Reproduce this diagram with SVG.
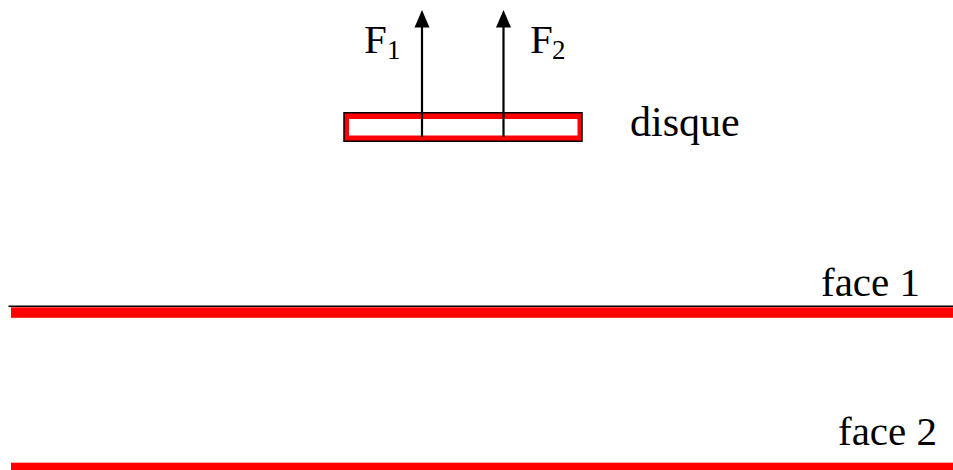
<svg xmlns="http://www.w3.org/2000/svg" width="953" height="470" viewBox="0 0 953 470">
<style>
.t{font-family:"Liberation Serif","Times New Roman",serif;fill:#000}
.lbl{font-size:41px}
.sub{font-size:27px}
.arr{stroke:#000;stroke-width:2.2;fill:none}
.red{fill:#ff0000}
</style>
<rect width="953" height="470" fill="#fff"/>
<g id="disque">
<rect x="344" y="112.75" width="238" height="28.5" fill="#ff0000" stroke="#000" stroke-width="1.5"/>
<rect x="349" y="119" width="228.5" height="16.5" fill="#fff"/>
<text class="t" style="font-size:42px" x="630" y="136">disque</text>
</g>
<g id="face1">
<line x1="8.5" y1="306.3" x2="953" y2="306.3" stroke="#000" stroke-width="1.4"/>
<rect class="red" x="11" y="307.3" width="942" height="10.5"/>
<text class="t lbl" x="821" y="296">face 1</text>
</g>
<g id="face2">
<rect class="red" x="11" y="462.7" width="942" height="7.3"/>
<text class="t lbl" x="838" y="445">face 2</text>
</g>
<g id="connectors">
<line class="arr" x1="422" y1="137" x2="422" y2="27"/>
<polygon points="422,10 414.5,27.5 429.5,27.5" fill="#000"/>
<line class="arr" x1="503.5" y1="137" x2="503.5" y2="27"/>
<polygon points="503.5,10 496,27.5 511,27.5" fill="#000"/>
</g>
<g id="label-F1">
<text class="t lbl" x="364" y="53">F<tspan class="sub" x="387" y="59">1</tspan></text>
</g>
<g id="label-F2">
<text class="t lbl" x="530" y="53">F<tspan class="sub" x="552" y="59">2</tspan></text>
</g>
</svg>
